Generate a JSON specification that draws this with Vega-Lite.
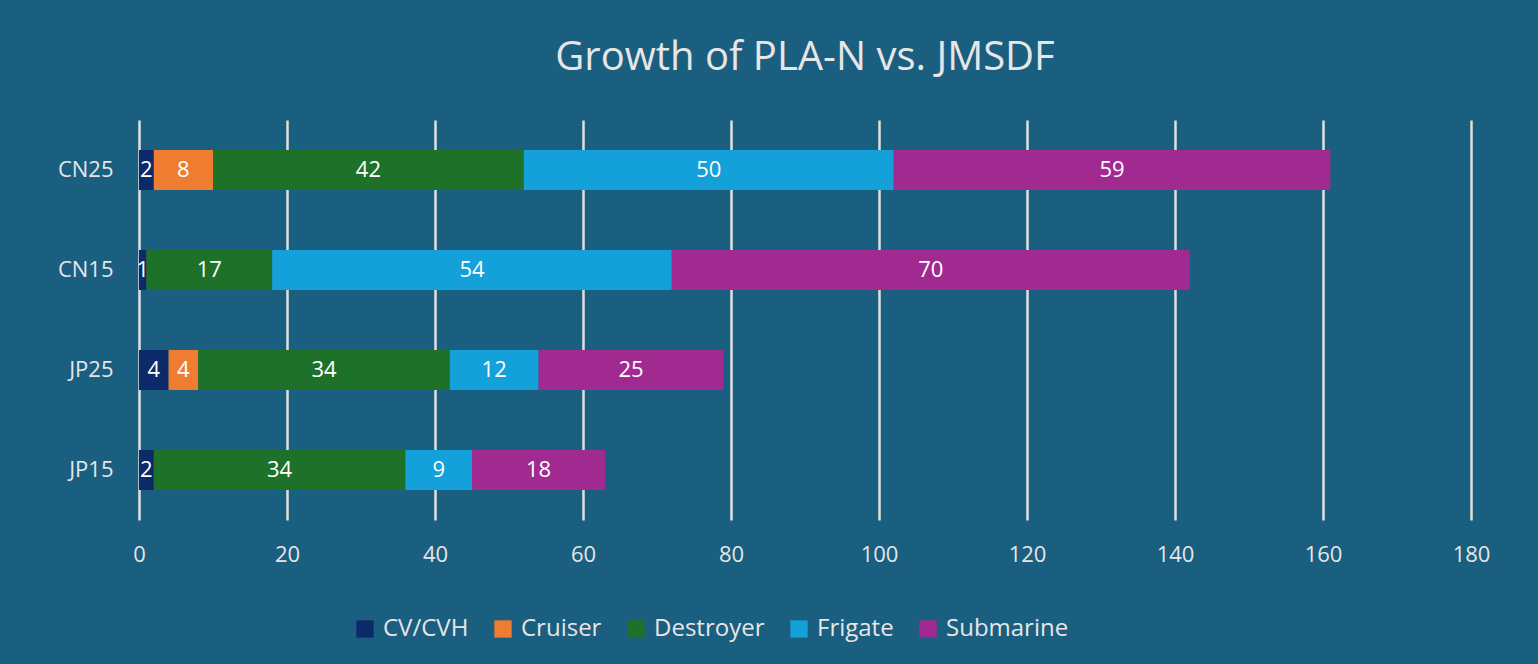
{
  "$schema": "https://vega.github.io/schema/vega-lite/v6.json",
  "autosize": {"type": "none"},
  "width": 1332,
  "height": 400,
  "padding": {"left": 139, "top": 120, "right": 67, "bottom": 144},
  "background": "#1a5e80",
  "title": {"text": "Growth of PLA-N vs. JMSDF", "fontSize": 40, "font": "Open Sans", "fontWeight": "normal", "color": "#e6e6e6", "offset": 42, "anchor": "middle"},
  "config": {"view": {"stroke": null}, "font": "Open Sans"},
  "data": {"values": [
    {"fleet": "CN25", "type": "CV/CVH", "k": 1, "n": 2},
    {"fleet": "CN25", "type": "Cruiser", "k": 2, "n": 8},
    {"fleet": "CN25", "type": "Destroyer", "k": 3, "n": 42},
    {"fleet": "CN25", "type": "Frigate", "k": 4, "n": 50},
    {"fleet": "CN25", "type": "Submarine", "k": 5, "n": 59},
    {"fleet": "CN15", "type": "CV/CVH", "k": 1, "n": 1},
    {"fleet": "CN15", "type": "Destroyer", "k": 3, "n": 17},
    {"fleet": "CN15", "type": "Frigate", "k": 4, "n": 54},
    {"fleet": "CN15", "type": "Submarine", "k": 5, "n": 70},
    {"fleet": "JP25", "type": "CV/CVH", "k": 1, "n": 4},
    {"fleet": "JP25", "type": "Cruiser", "k": 2, "n": 4},
    {"fleet": "JP25", "type": "Destroyer", "k": 3, "n": 34},
    {"fleet": "JP25", "type": "Frigate", "k": 4, "n": 12},
    {"fleet": "JP25", "type": "Submarine", "k": 5, "n": 25},
    {"fleet": "JP15", "type": "CV/CVH", "k": 1, "n": 2},
    {"fleet": "JP15", "type": "Destroyer", "k": 3, "n": 34},
    {"fleet": "JP15", "type": "Frigate", "k": 4, "n": 9},
    {"fleet": "JP15", "type": "Submarine", "k": 5, "n": 18}
  ]},
  "transform": [
    {"stack": "n", "groupby": ["fleet"], "sort": [{"field": "k"}], "as": ["x0", "x1"]},
    {"calculate": "(datum.x0 + datum.x1) / 2", "as": "mid"}
  ],
  "encoding": {
    "y": {"field": "fleet", "type": "nominal", "sort": ["CN25", "CN15", "JP25", "JP15"], "title": null,
      "axis": {"domain": false, "ticks": false, "labelFontSize": 22, "labelColor": "#e6e6e6", "labelPadding": 26}}
  },
  "layer": [
    {
      "mark": {"type": "bar", "height": 40},
      "encoding": {
        "x": {"field": "x0", "type": "quantitative", "scale": {"domain": [0, 180]}, "title": null,
          "axis": {"values": [0,20,40,60,80,100,120,140,160,180], "domain": false, "ticks": false, "grid": true, "gridColor": "#e0e0e0", "gridWidth": 2.5, "labelFontSize": 22, "labelColor": "#e6e6e6", "labelPadding": 24, "labelFlush": false}},
        "x2": {"field": "x1"},
        "color": {"field": "type", "type": "nominal", "sort": ["CV/CVH", "Cruiser", "Destroyer", "Frigate", "Submarine"],
          "scale": {"domain": ["CV/CVH", "Cruiser", "Destroyer", "Frigate", "Submarine"], "range": ["#0c2a6a", "#ee7d31", "#1e7128", "#14a0d8", "#a12a91"]},
          "legend": {"orient": "none", "legendX": 214, "legendY": 497, "direction": "horizontal", "title": null, "symbolType": "square", "symbolSize": 300, "symbolStrokeWidth": 0, "labelFontSize": 24, "labelColor": "#e6e6e6", "columnPadding": 22, "labelOffset": 6}}
      }
    },
    {
      "mark": {"type": "text", "color": "white", "fontSize": 22},
      "encoding": {
        "x": {"field": "mid", "type": "quantitative"},
        "text": {"field": "n", "type": "quantitative"}
      }
    }
  ]
}
